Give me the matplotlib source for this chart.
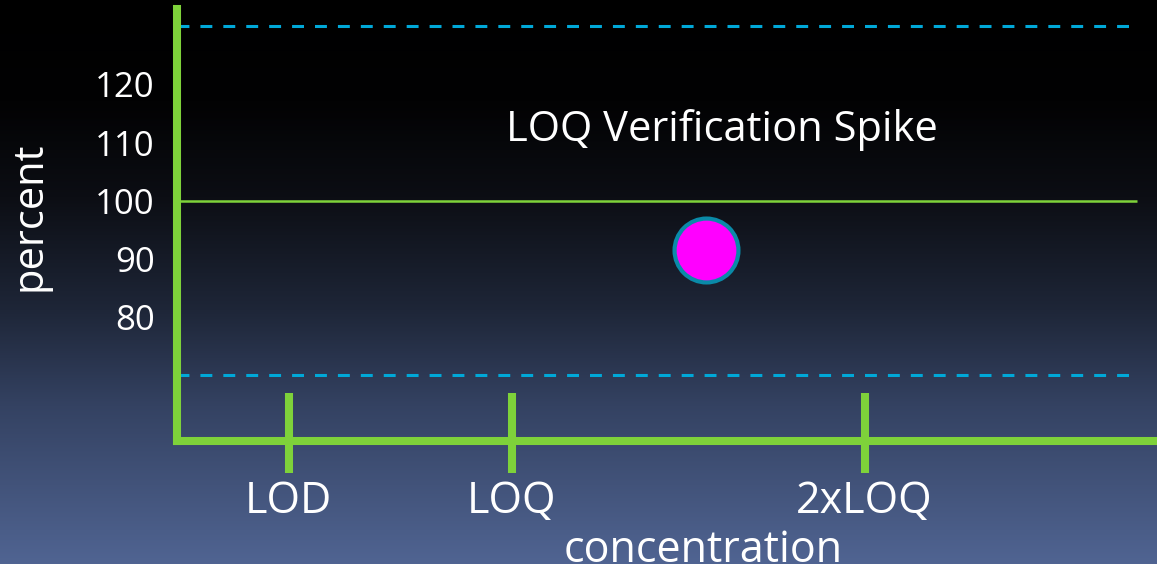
import numpy as np
import matplotlib
matplotlib.use("Agg")
import matplotlib.pyplot as plt

plt.rcParams['font.family'] = ['Open Sans', 'DejaVu Sans']

# data
x_labels = ['LOD', 'LOQ', '2xLOQ']
x_pos = [1.0, 2.0, 3.58]
y_ticks = [80, 90, 100, 110, 120]
target = 100
upper_limit = 130
lower_limit = 70
spike_x = [2.87]
spike_y = [91.5]

green = '#7ed23a'
cyan = '#00a8d8'

fig = plt.figure(figsize=(11.57, 5.64), dpi=100)

# background gradient (black at top, slate blue at bottom)
bg = fig.add_axes([0, 0, 1, 1])
bg.axis('off')
t = np.linspace(0, 1, 300)
stops = [0.0, 0.18, 0.35, 0.55, 0.72, 1.0]
r = np.interp(t, stops, [0, 2, 12, 30, 52, 80])
g = np.interp(t, stops, [0, 2, 14, 38, 66, 100])
b = np.interp(t, stops, [0, 3, 20, 56, 98, 146])
grad = np.stack([r, g, b], axis=1)[:, None, :] / 255.0
bg.imshow(grad, aspect='auto', extent=[0, 1, 0, 1])

ax = fig.add_axes([177/1157, 1-441/564, 1-177/1157, (441-9)/564])
ax.patch.set_alpha(0)
ax.set_xlim(0.5, 4.89)
ax.set_ylim(58.6, 133)

for s in ['top', 'right']:
    ax.spines[s].set_visible(False)
for s in ['left', 'bottom']:
    ax.spines[s].set_color(green)
    ax.spines[s].set_linewidth(5.8)

ax.hlines(target, 0.5, 4.80, color=green, lw=1.8)
ax.hlines([upper_limit, lower_limit], 0.5, 4.80, color=cyan, lw=2.2,
          linestyles=(0, (3.9, 3.6)))

ax.plot(spike_x, spike_y, 'o', ms=46, mfc='#ff00ff', mec='#0a8aa8', mew=3,
        zorder=5)

# tick marks crossing the x axis
ax.vlines(x_pos, 53.1, 66.9, color=green, lw=5.8, clip_on=False, zorder=4)

ax.set_xticks(x_pos)
ax.set_xticklabels(x_labels, color='white', fontsize=31)
ax.tick_params(axis='x', length=0, pad=28)
ax.set_yticks(y_ticks)
ax.set_yticklabels([str(v) for v in y_ticks], color='white', fontsize=25)
ax.tick_params(axis='y', length=0, pad=16)

fig.text(703/1157, 1-562/564, 'concentration', color='white', fontsize=31,
         ha='center', va='baseline')
fig.text(29/1157, 1-216/564, 'percent', color='white', fontsize=30,
         rotation=90, ha='center', va='center')
ax.text(2.94, 112.2, 'LOQ Verification Spike', color='white', fontsize=30,
        ha='center', va='center')

fig.savefig('out.png', dpi=100)
